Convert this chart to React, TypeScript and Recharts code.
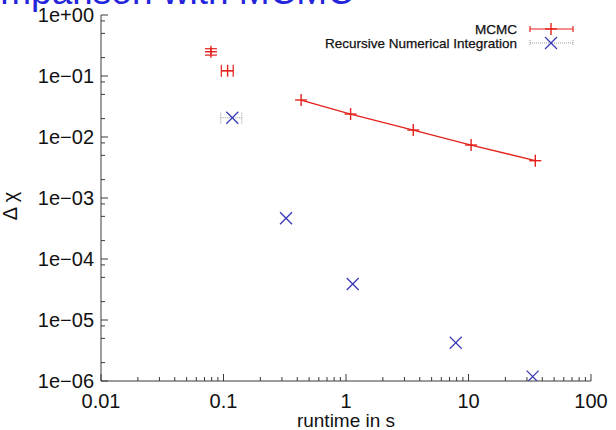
import React from 'react';
import { ComposedChart, Scatter, XAxis, YAxis, ErrorBar, Legend } from 'recharts';

// tick values and their labels
const runtimeTicks = [0.01, 0.1, 1, 10, 100];
const runtimeTickLabels = ['0.01', '0.1', '1', '10', '100'];
const deltaTicks = [1, 0.1, 0.01, 0.001, 0.0001, 0.00001, 0.000001];
const deltaTickLabels = ['1e+00', '1e\u221201', '1e\u221202', '1e\u221203', '1e\u221204', '1e\u221205', '1e\u221206'];
const runtimeMinorSteps = [2, 3, 4, 5, 6, 7, 8, 9];
const deltaMinorSteps = [2, 5, 8];

// MCMC: first two runs (not joined by the line)
const mcmcEarlyRuntime = [0.079, 0.108];
const mcmcEarlyDelta = [0.25, 0.122];
const mcmcEarlyRuntimeErr = [0, 0.012];
const mcmcEarlyDeltaErr = [0.03, 0];

// MCMC: joined runs
const mcmcRuntime = [0.43, 1.09, 3.54, 10.5, 35.1];
const mcmcDelta = [0.0404, 0.0238, 0.013, 0.00739, 0.00409];

// Recursive numerical integration
const rniRuntime = [0.118, 0.324, 1.135, 7.87, 33.4];
const rniDelta = [0.0207, 0.000465, 0.0000389, 0.00000425, 0.00000118];
const rniRuntimeErr = [0.023, 0, 0, 0, 0];

const seriesNames = ['MCMC', 'Recursive Numerical Integration'];

const RED = '#e3201b';
const BLUE = '#3a3ab4';
const AXIS = '#3a3a3a';
const TICK_FONT = '"Liberation Sans", Arial, sans-serif';

const mcmcEarly = mcmcEarlyRuntime.map((r, i) => ({
  runtime: r,
  delta: mcmcEarlyDelta[i],
  ex: mcmcEarlyRuntimeErr[i],
  ey: mcmcEarlyDeltaErr[i],
}));
const mcmcJoined = mcmcRuntime.map((r, i) => ({ runtime: r, delta: mcmcDelta[i] }));
const rni = rniRuntime.map((r, i) => ({ runtime: r, delta: rniDelta[i], ex: rniRuntimeErr[i] }));

const xAllTicks = [
  ...runtimeTicks,
  ...runtimeTicks.slice(0, -1).flatMap(d => runtimeMinorSteps.map(s => d * s)),
];
const yAllTicks = [
  ...deltaTicks,
  ...deltaTicks.slice(1).flatMap(d => deltaMinorSteps.map(s => d * s)),
];

const majorIndex = (list: number[], v: number) =>
  list.findIndex(t => Math.abs(Math.log10(t) - Math.log10(v)) < 1e-6);

const XTick = (props: any) => {
  const { x, y, payload, top } = props;
  const idx = majorIndex(runtimeTicks, payload.value);
  const len = idx >= 0 ? 7 : 4;
  const dir = top ? 1 : -1;
  return (
    <g>
      <line x1={x} x2={x} y1={y} y2={y + dir * len} stroke={AXIS} strokeWidth={1} />
      {!top && idx >= 0 && (
        <text x={x} y={y + 27} textAnchor="middle" fontSize={20} fontFamily={TICK_FONT} fill="#111">
          {runtimeTickLabels[idx]}
        </text>
      )}
    </g>
  );
};

const YTick = (props: any) => {
  const { x, y, payload, right } = props;
  const idx = majorIndex(deltaTicks, payload.value);
  const len = idx >= 0 ? 7 : 4;
  const dir = right ? -1 : 1;
  return (
    <g>
      <line x1={x} x2={x + dir * len} y1={y} y2={y} stroke={AXIS} strokeWidth={1} />
      {!right && idx >= 0 && (
        <text x={x - 7} y={y + 7} textAnchor="end" fontSize={20} fontFamily={TICK_FONT} fill="#111">
          {deltaTickLabels[idx]}
        </text>
      )}
    </g>
  );
};

const PlusMark = (props: any) => {
  const { cx, cy } = props;
  if (cx == null || cy == null) return null;
  return (
    <g stroke={RED} strokeWidth={1.4}>
      <line x1={cx - 6} x2={cx + 6} y1={cy} y2={cy} />
      <line x1={cx} x2={cx} y1={cy - 6} y2={cy + 6} />
    </g>
  );
};

const CrossMark = (props: any) => {
  const { cx, cy } = props;
  if (cx == null || cy == null) return null;
  return (
    <g stroke={BLUE} strokeWidth={1.3}>
      <line x1={cx - 6} x2={cx + 6} y1={cy - 6} y2={cy + 6} />
      <line x1={cx - 6} x2={cx + 6} y1={cy + 6} y2={cy - 6} />
    </g>
  );
};

// legend drawn in the gnuplot style, top right inside the frame
const renderLegend = () => (
  <svg width={616} height={60} style={{ display: 'block' }}>
    <g fontFamily={TICK_FONT} fontSize={13.5} fill="#111" stroke="#111" strokeWidth={0.25}>
      <text x={517} y={34} textAnchor="end">{seriesNames[0]}</text>
      <text x={517} y={48} textAnchor="end">{seriesNames[1]}</text>
    </g>
    <g stroke={RED} strokeWidth={1.2}>
      <line x1={530} x2={573} y1={29} y2={29} />
      <line x1={530} x2={530} y1={26} y2={32} />
      <line x1={573} x2={573} y1={26} y2={32} />
    </g>
    <PlusMark cx={551} cy={29} />
    <g stroke="#9a9a9a" strokeWidth={1} strokeDasharray="1 1">
      <line x1={530} x2={573} y1={43} y2={43} />
      <line x1={530} x2={530} y1={40} y2={46} />
      <line x1={573} x2={573} y1={40} y2={46} />
    </g>
    <CrossMark cx={551} cy={43} />
  </svg>
);

export default function App() {
  return (
    <div style={{ position: 'absolute', left: 0, top: 0, width: 616, height: 430, overflow: 'hidden', background: '#fff' }}>
      <div
        style={{
          position: 'absolute',
          left: -47,
          top: -27,
          fontFamily: TICK_FONT,
          fontSize: 37,
          lineHeight: '37px',
          color: '#2424dc',
          whiteSpace: 'nowrap',
        }}
      >
        Comparison with MCMC
      </div>
      <ComposedChart width={616} height={430} margin={{ top: 15, right: 25, left: 0, bottom: 0 }}>
        <XAxis
          xAxisId="b"
          dataKey="runtime"
          type="number"
          scale="log"
          domain={[0.01, 100]}
          allowDataOverflow
          ticks={xAllTicks}
          interval={0}
          tickSize={0}
          tickMargin={0}
          tickLine={false}
          axisLine={{ stroke: AXIS }}
          height={49}
          tick={(p: any) => <XTick {...p} />}
          label={{
            position: 'insideBottom',
            content: (lp: any) => {
              const vb = lp.viewBox;
              return (
                <text x={vb.x + vb.width / 2} y={vb.y + vb.height - 3} textAnchor="middle" fontSize={19} fontFamily={TICK_FONT} fill="#111">
                  runtime in s
                </text>
              );
            },
          }}
        />
        <XAxis
          xAxisId="t"
          orientation="top"
          dataKey="runtime"
          type="number"
          scale="log"
          domain={[0.01, 100]}
          allowDataOverflow
          ticks={xAllTicks}
          interval={0}
          tickSize={0}
          tickMargin={0}
          tickLine={false}
          axisLine={{ stroke: AXIS }}
          height={0}
          tick={(p: any) => <XTick {...p} top />}
        />
        <YAxis
          yAxisId="l"
          dataKey="delta"
          type="number"
          scale="log"
          domain={[0.000001, 1]}
          allowDataOverflow
          ticks={yAllTicks}
          interval={0}
          tickSize={0}
          tickMargin={0}
          tickLine={false}
          axisLine={{ stroke: AXIS }}
          width={101}
          tick={(p: any) => <YTick {...p} />}
          label={{
            position: 'insideLeft',
            content: (lp: any) => {
              const vb = lp.viewBox;
              const cx = vb.x + 17;
              const cy = vb.y + vb.height / 2 + 8;
              return (
                <text x={cx} y={cy} transform={`rotate(-90 ${cx} ${cy})`} textAnchor="middle" fontSize={20} fontFamily={TICK_FONT} fill="#111">
                  {'\u0394 \u03c7'}
                </text>
              );
            },
          }}
        />
        <YAxis
          yAxisId="r"
          orientation="right"
          dataKey="delta"
          type="number"
          scale="log"
          domain={[0.000001, 1]}
          allowDataOverflow
          ticks={yAllTicks}
          interval={0}
          tickSize={0}
          tickMargin={0}
          tickLine={false}
          axisLine={{ stroke: AXIS }}
          width={0}
          tick={(p: any) => <YTick {...p} right />}
        />
        <Legend
          layout="horizontal"
          verticalAlign="middle"
          align="center"
          content={renderLegend}
          wrapperStyle={{ top: 0, left: 0, width: 616, height: 60 }}
        />
        <Scatter
          name={seriesNames[0]}
          data={mcmcEarly}
          dataKey="delta"
          xAxisId="b"
          yAxisId="l"
          fill={RED}
          shape={(p: any) => <PlusMark {...p} />}
          isAnimationActive={false}
          legendType="none"
        >
          <ErrorBar dataKey="ex" direction="x" stroke={RED} width={6} strokeWidth={1.2} />
          <ErrorBar dataKey="ey" direction="y" stroke={RED} width={6} strokeWidth={1.2} />
        </Scatter>
        <Scatter
          name={seriesNames[0]}
          data={mcmcJoined}
          dataKey="delta"
          xAxisId="b"
          yAxisId="l"
          fill={RED}
          line={{ stroke: RED, strokeWidth: 1.3 }}
          lineType="joint"
          shape={(p: any) => <PlusMark {...p} />}
          isAnimationActive={false}
        />
        <Scatter
          name={seriesNames[1]}
          data={rni}
          dataKey="delta"
          xAxisId="b"
          yAxisId="l"
          fill={BLUE}
          shape={(p: any) => <CrossMark {...p} />}
          isAnimationActive={false}
        >
          <ErrorBar dataKey="ex" direction="x" stroke="#9a9a9a" strokeDasharray="1 1" width={6} strokeWidth={1} />
        </Scatter>
      </ComposedChart>
    </div>
  );
}
